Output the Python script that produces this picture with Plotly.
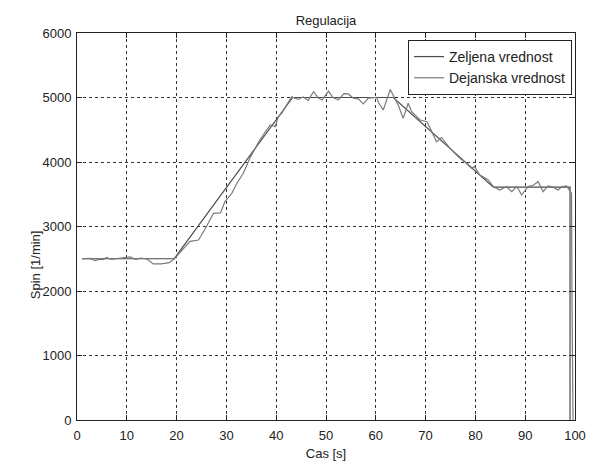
import plotly.graph_objects as go

# Zeljena vrednost (setpoint)
t_set = [1, 19.5, 43.3, 63.5, 83.6, 99.0, 99.0]
y_set = [2500, 2500, 5000, 5000, 3610, 3610, 0]

# Dejanska vrednost (actual)
t_act = [1, 2.6, 3.6, 4.6, 5.3, 5.9, 6.9, 7.9, 9.4, 10.7, 11.7, 12.9, 13.7, 14.3,
         15.3, 16.9, 18.5, 19.5, 22.7, 24.4, 26.0, 27.4, 28.8, 29.7, 31.1, 32.1,
         33.4, 34.7, 36.7, 37.8, 38.8, 39.8, 40.4, 41.1, 42.4, 43.1,
         44.4, 45.4, 46.4, 47.5, 48.5, 49.2, 50.5, 51.4, 52.5, 53.6, 54.5, 55.5,
         56.5, 57.5, 58.5, 59.5, 60.2, 60.5, 61.5, 62.9, 63.5, 64.5, 65.5, 66.5,
         67.2, 68.9, 70.3, 72.2, 73.2, 74.9, 76.9, 77.8, 79.2, 79.8, 80.9, 82.6,
         83.6, 84.9, 86.2, 87.3, 88.3, 89.3, 90.6, 91.6, 92.6, 93.6, 94.6, 95.6,
         96.6, 97.4, 98.3, 99.3, 99.4, 99.6]
y_act = [2500, 2505, 2470, 2495, 2485, 2520, 2490, 2500, 2510, 2530, 2490, 2510, 2500, 2480,
         2420, 2420, 2440, 2495, 2770, 2790, 3000, 3205, 3210, 3385, 3515, 3670,
         3825, 4057, 4341, 4470, 4574, 4548, 4702, 4755, 4910, 5010,
         4970, 5010, 4955, 5090, 4990, 4960, 5100, 5000, 4965, 5060, 5055, 4990,
         4980, 4900, 4990, 5000, 5000, 4925, 4806, 5125, 5030, 4884, 4677, 4910,
         4780, 4651, 4625, 4315, 4380, 4212, 4057, 4005, 3902, 3930, 3798, 3721,
         3617, 3566, 3620, 3540, 3620, 3488, 3620, 3640, 3695, 3540, 3630, 3610,
         3566, 3620, 3628, 3515, 1830, 0]

x_ticks = list(range(0, 101, 10))
y_ticks = list(range(0, 6001, 1000))

fig = go.Figure()
fig.add_trace(go.Scatter(x=t_set, y=y_set, mode="lines", name="Zeljena vrednost",
                         line=dict(color="#4a4a4a", width=1.2)))
fig.add_trace(go.Scatter(x=t_act, y=y_act, mode="lines", name="Dejanska vrednost",
                         line=dict(color="#7a7a7a", width=1.2)))

axis_common = dict(showline=True, linecolor="#222", linewidth=1, mirror="allticks",
                   ticks="inside", ticklen=5, tickcolor="#222", showgrid=True,
                   gridcolor="#333", gridwidth=1, griddash="3px,3px", zeroline=False,
                   automargin=False, tickfont=dict(size=13, color="#222"))

fig.update_xaxes(range=[0, 100], tickvals=x_ticks, ticklabelstandoff=3,
                 title=dict(text="Cas [s]", font=dict(size=13, color="#222"), standoff=10),
                 **axis_common)
fig.update_yaxes(range=[0, 6000], tickvals=y_ticks, ticklabelstandoff=2,
                 **axis_common)

fig.update_layout(
    width=596, height=461,
    margin=dict(l=77, r=21, t=33, b=41),
    paper_bgcolor="white", plot_bgcolor="white",
    font=dict(family="Liberation Sans, Arial, sans-serif", size=13, color="#222"),
    title=dict(text="Regulacija", x=(77 + 498 / 2) / 596, xanchor="center",
               y=1 - 20 / 461, yanchor="middle", font=dict(size=13)),
    legend=dict(x=0.994, xanchor="right", y=0.982, yanchor="top",
                bgcolor="white", bordercolor="#222", borderwidth=1,
                font=dict(size=14), tracegroupgap=0),
    annotations=[dict(text="Spin [1/min]", textangle=-90, xref="paper", yref="paper",
                      x=-42 / 498, y=0.4, xanchor="center", yanchor="middle",
                      showarrow=False, font=dict(size=13, color="#222"))],
    showlegend=True,
)

fig.write_html("out.html")
